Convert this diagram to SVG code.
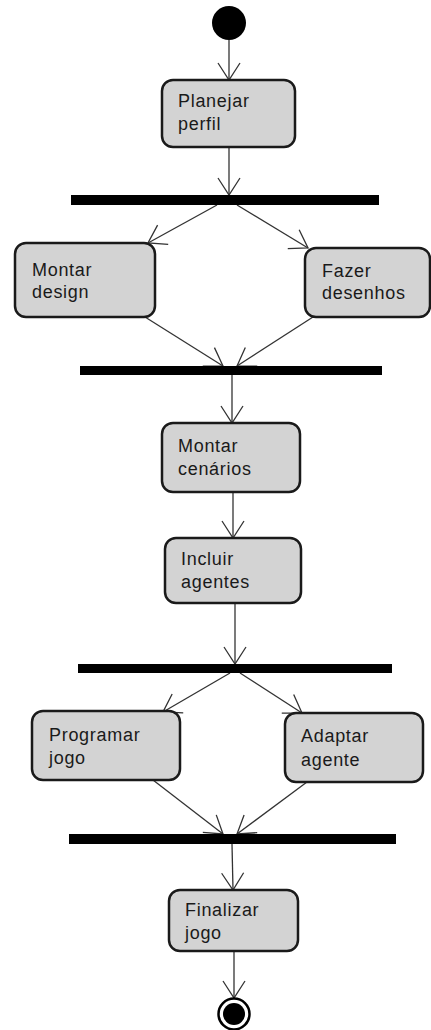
<svg xmlns="http://www.w3.org/2000/svg" width="431" height="1030" viewBox="0 0 431 1030">
<style>
.node rect.box{fill:#d3d3d3;stroke:#1a1a1a;stroke-width:2.5}
.bar{fill:#000}
.lbl{font-family:"Liberation Sans",Arial,sans-serif;font-size:18px;letter-spacing:0.7px;fill:#1a1a1a}
.edge{stroke:#333;stroke-width:1.3;fill:none;marker-end:url(#arr)}
</style>
<defs>
<marker id="arr" markerUnits="userSpaceOnUse" markerWidth="30" markerHeight="30" viewBox="-20 -15 25 30" refX="0" refY="0" orient="auto">
<path d="M-17,-11 L0,0 L-17,11" fill="none" stroke="#333" stroke-width="1.3"/>
</marker>
</defs>
<rect width="431" height="1030" fill="#fff"/>
<g id="connectors">
<line class="edge" x1="229" y1="40" x2="229" y2="80"/>
<line class="edge" x1="229" y1="147" x2="229" y2="195"/>
<line class="edge" x1="217" y1="205" x2="148" y2="243"/>
<line class="edge" x1="237" y1="205" x2="308" y2="248"/>
<line class="edge" x1="145" y1="317" x2="223" y2="366"/>
<line class="edge" x1="313" y1="317" x2="237" y2="366"/>
<line class="edge" x1="232" y1="374" x2="232" y2="423"/>
<line class="edge" x1="233" y1="492" x2="233" y2="538"/>
<line class="edge" x1="235" y1="603" x2="235" y2="664"/>
<line class="edge" x1="230" y1="673" x2="163" y2="712"/>
<line class="edge" x1="240" y1="673" x2="302" y2="713"/>
<line class="edge" x1="153" y1="780" x2="223" y2="834"/>
<line class="edge" x1="307" y1="782" x2="237" y2="834"/>
<line class="edge" x1="232" y1="844" x2="233" y2="890"/>
<line class="edge" x1="234" y1="951" x2="234" y2="998"/>
</g>
<g id="start"><circle cx="229" cy="23" r="17" fill="#000"/></g>
<g id="planejar" class="node"><rect class="box" x="162" y="80" width="133" height="67" rx="11"/><text class="lbl" x="178" y="107">Planejar</text><text class="lbl" x="178" y="130">perfil</text></g>
<g id="fork1"><rect class="bar" x="71" y="195" width="308" height="10"/></g>
<g id="montar-design" class="node"><rect class="box" x="15" y="243" width="140" height="74" rx="11"/><text class="lbl" x="32" y="276">Montar</text><text class="lbl" x="32" y="298">design</text></g>
<g id="fazer-desenhos" class="node"><rect class="box" x="305" y="248" width="125" height="69" rx="11"/><text class="lbl" x="322" y="277">Fazer</text><text class="lbl" x="322" y="299">desenhos</text></g>
<g id="join1"><rect class="bar" x="80" y="366" width="302" height="9"/></g>
<g id="montar-cenarios" class="node"><rect class="box" x="162" y="423" width="138" height="69" rx="11"/><text class="lbl" x="178" y="452">Montar</text><text class="lbl" x="178" y="475">cenários</text></g>
<g id="incluir-agentes" class="node"><rect class="box" x="165" y="538" width="136" height="65" rx="11"/><text class="lbl" x="181" y="565">Incluir</text><text class="lbl" x="181" y="588">agentes</text></g>
<g id="fork2"><rect class="bar" x="78" y="664" width="314" height="9"/></g>
<g id="programar-jogo" class="node"><rect class="box" x="32" y="711" width="148" height="69" rx="11"/><text class="lbl" x="49" y="741">Programar</text><text class="lbl" x="49" y="764">jogo</text></g>
<g id="adaptar-agente" class="node"><rect class="box" x="285" y="713" width="138" height="69" rx="11"/><text class="lbl" x="301" y="742">Adaptar</text><text class="lbl" x="301" y="766">agente</text></g>
<g id="join2"><rect class="bar" x="69" y="834" width="327" height="10"/></g>
<g id="finalizar-jogo" class="node"><rect class="box" x="169" y="890" width="129" height="61" rx="11"/><text class="lbl" x="185" y="916">Finalizar</text><text class="lbl" x="185" y="939">jogo</text></g>
<g id="end"><circle cx="234" cy="1014" r="15.5" fill="#fff" stroke="#000" stroke-width="2.5"/><circle cx="234" cy="1014" r="11" fill="#000"/></g>
</svg>
